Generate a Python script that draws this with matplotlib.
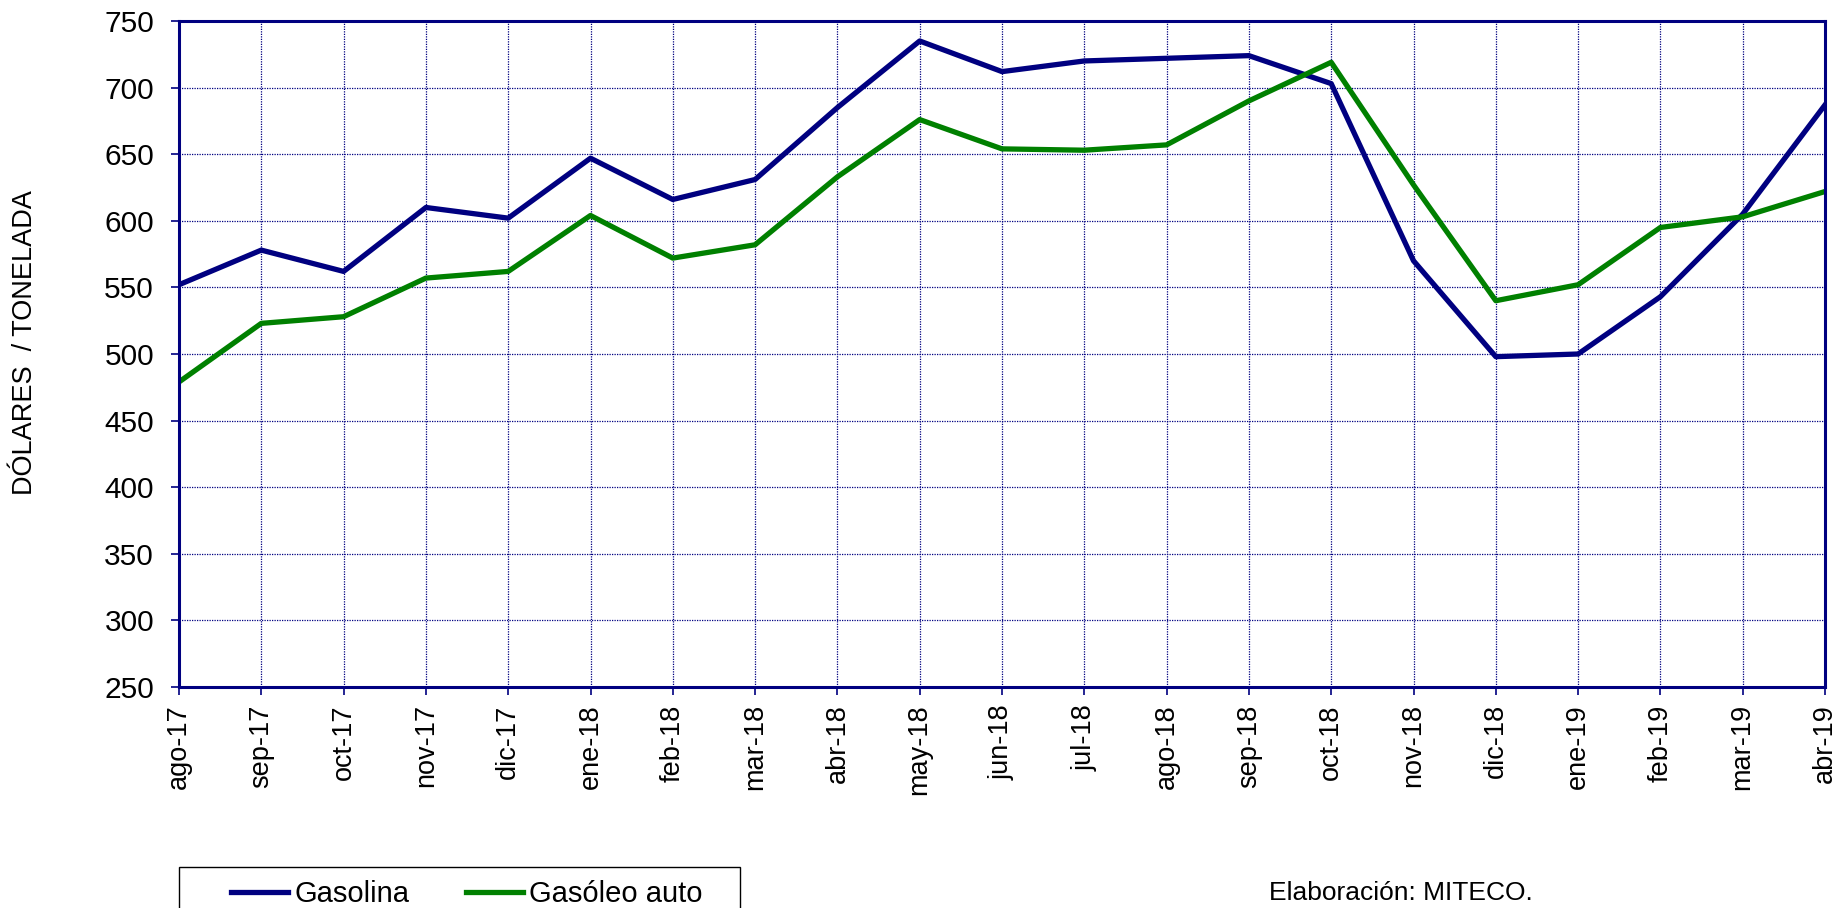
import numpy as np
import matplotlib.pyplot as plt
from matplotlib.patches import Rectangle

plt.rcParams['font.family'] = ['Liberation Sans', 'DejaVu Sans']

# Meses y precios (dólares / tonelada)
meses = ['ago-17', 'sep-17', 'oct-17', 'nov-17', 'dic-17', 'ene-18', 'feb-18',
         'mar-18', 'abr-18', 'may-18', 'jun-18', 'jul-18', 'ago-18', 'sep-18',
         'oct-18', 'nov-18', 'dic-18', 'ene-19', 'feb-19', 'mar-19', 'abr-19']
gasolina = [552, 578, 562, 610, 602, 647, 616, 631, 685, 735, 712, 720,
            722, 724, 703, 570, 498, 500, 543, 605, 687]
gasoleo = [479, 523, 528, 557, 562, 604, 572, 582, 633, 676, 654, 653,
           657, 690, 719, 627, 540, 552, 595, 603, 622]

azul = '#000080'
verde = '#008000'
W, H = 1842, 908

fig = plt.figure(figsize=(W / 100, H / 100), dpi=100)
ax = fig.add_axes([179 / W, 1 - 687 / H, (1825 - 179) / W, (687 - 21) / H])

x = np.arange(len(meses))
ax.plot(x, gasolina, color=azul, lw=3.8, label='Gasolina')
ax.plot(x, gasoleo, color=verde, lw=3.8, label='Gasóleo auto')

ax.set_xlim(0, len(meses) - 1)
ax.set_ylim(250, 750)
ax.set_yticks(np.arange(250, 751, 50))
ax.set_xticks(x)
ax.set_xticklabels(meses, rotation=90, fontsize=19.5)
ax.tick_params(axis='y', labelsize=21.5, pad=12)
ax.tick_params(axis='x', pad=6.5)
ax.tick_params(direction='out', length=6, width=1.2, color=azul)

ax.grid(True, color=azul, linestyle=(0, (1, 1)), lw=0.9)
for s in ax.spines.values():
    s.set_color(azul)
    s.set_linewidth(2.2)

fig.text(25 / W, 1 - 343 / H, 'DÓLARES  / TONELADA', rotation=90, fontsize=19.5,
         ha='center', va='center')

# caja de la leyenda (se sale por abajo, como en el original)
fig.patches.append(Rectangle((179 / W, 1 - 922 / H), (740 - 179) / W, 55 / H,
                             transform=fig.transFigure, fill=False,
                             edgecolor='black', lw=1.0))
leg = fig.legend(loc='center left', bbox_to_anchor=(231 / W, 1 - 894 / H),
                 ncol=2, fontsize=21, frameon=False,
                 handlelength=1.95, handletextpad=0.22, columnspacing=1.95,
                 borderpad=0, borderaxespad=0)

fig.text(1269 / W, 1 - 893 / H, 'Elaboración: MITECO.', fontsize=19,
         ha='left', va='center')

fig.savefig('out.png', dpi=100)
